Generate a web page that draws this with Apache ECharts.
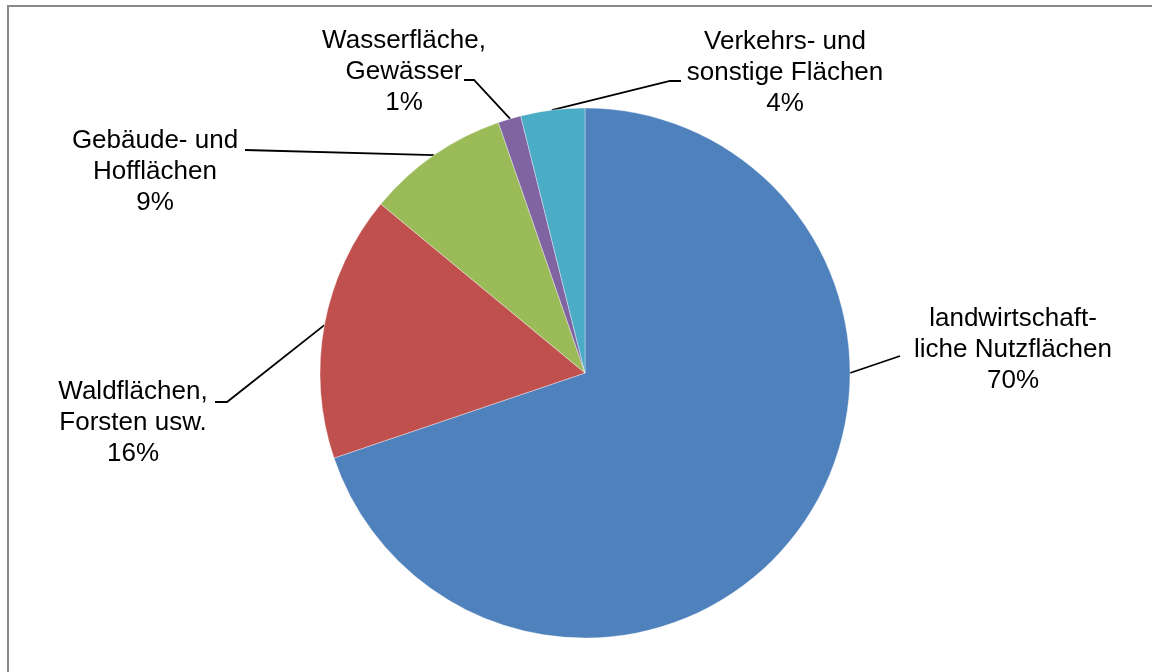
<!DOCTYPE html>
<html>
<head>
<meta charset="utf-8">
<style>
  html, body { margin: 0; padding: 0; background: #fff; }
  #chart { width: 1152px; height: 672px; }
</style>
<script src="https://cdn.jsdelivr.net/npm/echarts@6/dist/echarts.min.js"></script>
</head>
<body>
<div id="chart"></div>
<script>
// Data
const categories = [
  'landwirtschaft-\nliche Nutzflächen',
  'Waldflächen,\nForsten usw.',
  'Gebäude- und\nHofflächen',
  'Wasserfläche,\nGewässer',
  'Verkehrs- und\nsonstige Flächen'
];
const shares = [69.8, 16.2, 8.7, 1.4, 3.9];
const colors = ['#4F81BD', '#C0504D', '#9BBB59', '#8064A2', '#4BACC6'];

// Layout constants
const PIE_CENTER = [585, 373];
const PIE_RADIUS = 265;
// label block centres (pixels)
const labelCentres = [[1013, 350], [133, 423], [155, 172], [404, 72], [785, 73]];
// leader line: angle on the pie rim (deg, counter-clockwise from east),
// end offset from label centre, horizontal stub length
const leaderAnchorDeg = [0, 169.6, 124.7, 106.4, 97.2];
const leaderEndOffset = [[-113, 6], [82, -21], [90, -22], [60, 8], [-104, 8]];
const leaderStub = [0, 12, 0, 10, -11];

const chart = echarts.init(document.getElementById('chart'), null, { renderer: 'canvas' });

chart.setOption({
  animation: false,
  backgroundColor: '#ffffff',
  graphic: [{
    type: 'rect',
    shape: { x: 8, y: 6, width: 1300, height: 800 },
    style: { fill: 'none', stroke: '#8a8a8a', lineWidth: 2 },
    silent: true
  }],
  series: [{
    type: 'pie',
    center: PIE_CENTER,
    radius: PIE_RADIUS,
    startAngle: 90,
    clockwise: true,
    avoidLabelOverlap: false,
    percentPrecision: 0,
    data: categories.map((c, i) => ({ name: c, value: shares[i], itemStyle: { color: colors[i] } })),
    itemStyle: { borderColor: 'rgba(255,255,255,0.6)', borderWidth: 0.6 },
    label: {
      show: true,
      position: 'outside',
      formatter: '{b}\n{d}%',
      fontFamily: 'Liberation Sans, Arial, sans-serif',
      fontSize: 26,
      lineHeight: 31,
      color: '#000',
      align: 'center'
    },
    labelLine: {
      show: true,
      length: 10,
      length2: 10,
      lineStyle: { color: '#000', width: 1.8 }
    },
    labelLayout: function (params) {
      const i = params.dataIndex;
      const c = labelCentres[i];
      const a = leaderAnchorDeg[i] * Math.PI / 180;
      const rim = [PIE_CENTER[0] + PIE_RADIUS * Math.cos(a), PIE_CENTER[1] - PIE_RADIUS * Math.sin(a)];
      const end = [c[0] + leaderEndOffset[i][0], c[1] + leaderEndOffset[i][1]];
      const mid = [end[0] + leaderStub[i], end[1]];
      return {
        x: c[0], y: c[1], align: 'center', verticalAlign: 'middle',
        labelLinePoints: [rim, mid, end]
      };
    },
    emphasis: { disabled: true }
  }]
});
</script>
</body>
</html>
